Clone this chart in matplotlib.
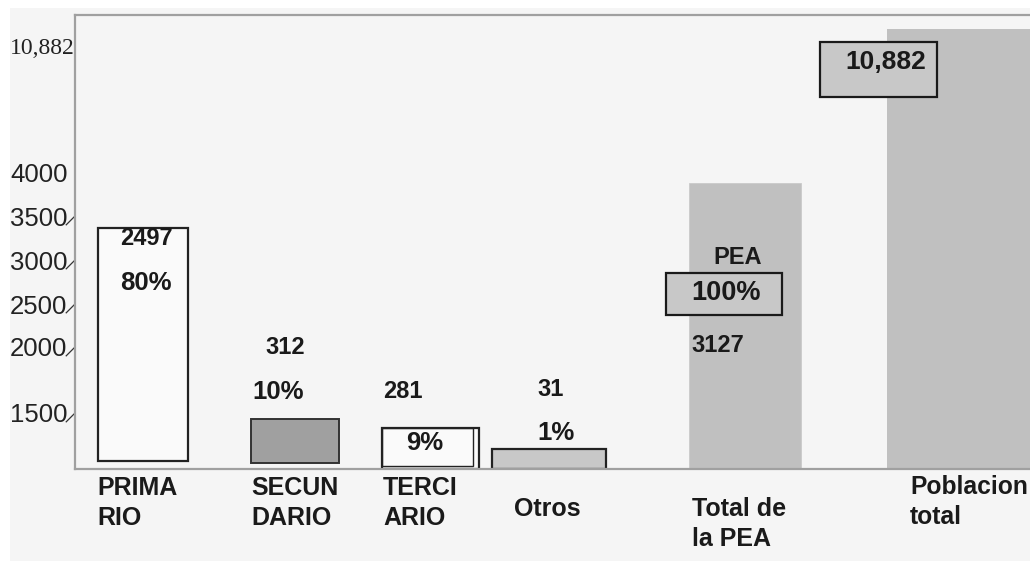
import numpy as np
import matplotlib
matplotlib.use("Agg")
import matplotlib.pyplot as plt
from matplotlib.patches import Rectangle
from matplotlib.path import Path

# ---------------- data ----------------
categories = ["PRIMA\nRIO", "SECUN\nDARIO", "TERCI\nARIO", "Otros",
              "Total de\nla PEA", "Poblacion\ntotal"]
values = [2497, 312, 281, 31, 3127, 10882]
value_labels = ["2497", "312", "281", "31", "3127", "10,882"]
percent_labels = ["80%", "10%", "9%", "1%", "100%"]
tick_labels = ["1500", "2000", "2500", "3000", "3500", "4000", "10,882"]

# ---------------- layout ----------------
W, H = 1030, 562
fig = plt.figure(figsize=(W / 100, H / 100), dpi=100)
fig.patch.set_facecolor("white")
fig.add_artist(Rectangle((10 / W, 1 - 561 / H), (W - 10) / W, (561 - 8) / H,
                         transform=fig.transFigure, fc="#f5f5f5", ec="none", zorder=0))

ax_l, ax_r, ax_t, ax_b = 75, 1040, 15, 469
ax = fig.add_axes([ax_l / W, 1 - ax_b / H, (ax_r - ax_l) / W, (ax_b - ax_t) / H])
ax.set_facecolor("#f5f5f5")

# broken (non-linear) value axis: piecewise mapping value -> drawn height (px)
sv = sorted(values)
knot_v = np.array([-1e6, 0] + sv + [1e6], dtype=float)
hts = [20, 41, 50, 241, 286, 440]
slope_top = (hts[-1] - hts[-2]) / (sv[-1] - sv[-2])
knot_h = np.array([-1e6 * hts[0] / sv[0], 0] + hts + [hts[-1] + (1e6 - sv[-1]) * slope_top],
                  dtype=float)


def fwd(v):
    return np.interp(v, knot_v, knot_h)


def inv(h):
    return np.interp(h, knot_h, knot_v)


ax.set_yscale("function", functions=(fwd, inv))
ax.set_ylim(0, inv(ax_b - ax_t))
ax.set_xlim(0, (ax_r - ax_l) / 100)

# bars
xc = [0.675, 2.20, 3.555, 4.74, 6.70, 8.87]
bw = [0.90, 0.88, 0.97, 1.14, 1.12, 1.50]
base_px = np.array([8, 6, 0, 0, 0, 0], dtype=float)
faces = ["#fafafa", "#a0a0a0", "#fafafa", "#c8c8c8", "#c0c0c0", "#c0c0c0"]
edges = ["#222222", "#333333", "#222222", "#222222", "#cacaca", "#c0c0c0"]
lws = [1.6, 1.4, 1.6, 1.6, 0.6, 0.0]
bottoms = inv(base_px)
ax.bar(xc, np.array(values, dtype=float) - bottoms, bottom=bottoms, width=bw,
       color=faces, edgecolor=edges, linewidth=lws, zorder=2)
# double outline of the TERCIARIO box
tb = inv(np.array([3.0]))[0]
ax.bar(xc[2] - 0.03, values[2] - tb, bottom=tb, width=bw[2] - 0.06,
       fill=False, edgecolor="#222222", linewidth=1.0, zorder=3)

# spines
for s in ["left", "top", "bottom"]:
    ax.spines[s].set_color("#a0a0a0")
    ax.spines[s].set_linewidth(1.6)
ax.spines["right"].set_visible(False)
ax.set_xticks([])

# y ticks (labels at drawn positions)
tick_px = np.array([56, 122, 165, 209, 253, 297, 423], dtype=float)
ax.set_yticks(inv(tick_px), tick_labels)
ax.tick_params(axis="y", length=14, width=0.9, color="#333333", pad=32.8,
               labelsize=18.5, labelcolor="#222222")
slash = Path([(-1.0, -0.9), (0.0, 0.1)])
for i, (t, lab) in enumerate(zip(ax.yaxis.get_major_ticks(), ax.get_yticklabels())):
    lab.set_ha("left")
    lab.set_fontfamily("Liberation Sans")
    t.tick1line.set_marker(slash)
    t.tick1line.set_markersize(14)
    if i >= 5:
        t.tick1line.set_visible(False)
labs = ax.get_yticklabels()
labs[-1].set_fontfamily("Liberation Serif")
labs[-1].set_fontsize(17)


def fx(x):
    return x / W


def fy(y):
    return 1 - y / H


txt_kw = dict(fontfamily="Liberation Sans", fontweight="bold", color="#1a1a1a",
              transform=fig.transFigure, zorder=5)

# label boxes
for (x0, y0, x1, y1) in [(666, 273, 782, 315), (820, 42, 937, 97)]:
    fig.add_artist(Rectangle((fx(x0), fy(y1)), (x1 - x0) / W, (y1 - y0) / H,
                             transform=fig.transFigure, fc="#c8c8c8", ec="#1a1a1a",
                             lw=1.6, zorder=4))

# value labels
val_pos = [(120, 238), (265, 347), (383, 391), (537, 390), (691, 346), (845, 62)]
for s, (x, y) in zip(value_labels, val_pos):
    fig.text(fx(x), fy(y), s, ha="left", va="center",
             fontsize=19 if s == "10,882" else 17, **txt_kw)

pct_pos = [(120, 283), (252, 392), (406, 443), (537, 433), (691, 293)]
for s, (x, y) in zip(percent_labels, pct_pos):
    fig.text(fx(x), fy(y), s, ha="left", va="center",
             fontsize=19.5 if s == "100%" else 18.5, **txt_kw)

fig.text(fx(713), fy(258), "PEA", ha="left", va="center", fontsize=17, **txt_kw)

# category labels
cat_pos = [(97, 476), (251, 476), (383, 476), (514, 497), (692, 497), (910, 475)]
for s, (x, y) in zip(categories, cat_pos):
    fig.text(fx(x), fy(y), s, ha="left", va="top",
             fontsize=17.7 if s.startswith("Poblacion") else 18,
             linespacing=1.34, **txt_kw)

fig.savefig("out.png", dpi=100, facecolor=fig.get_facecolor())
